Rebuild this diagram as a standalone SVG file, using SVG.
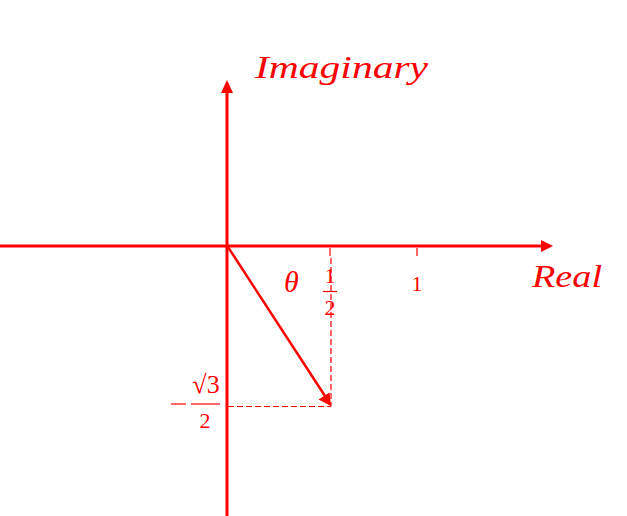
<svg xmlns="http://www.w3.org/2000/svg" width="627" height="516" viewBox="0 0 627 516">
<style>
.ax{stroke:#ff0000;stroke-width:3;fill:none}
.vec{stroke:#ff0000;stroke-width:2.5;fill:none}
.dash{stroke:#ff0000;stroke-width:1.2;stroke-dasharray:6,3;fill:none}
.tk{stroke:#ff0000;stroke-width:1.2}
.lab{fill:#ff0000;font-family:"Liberation Serif","DejaVu Serif",serif;font-style:italic}
.num{fill:#ff0000;font-family:"Liberation Serif","DejaVu Serif",serif}
</style>
<rect width="627" height="516" fill="#ffffff"/>
<g id="connectors">
<line class="ax" x1="0" y1="246" x2="542" y2="246"/>
<path d="M541,240 L553,246 L541,252 Z" fill="#ff0000"/>
<line class="ax" x1="227" y1="516" x2="227" y2="92"/>
<path d="M221,93 L227,80 L233,93 Z" fill="#ff0000"/>
<line class="tk" x1="330" y1="248" x2="330" y2="256"/>
<line class="tk" x1="417" y1="248" x2="417" y2="256"/>
<line class="dash" x1="331" y1="258" x2="331" y2="406"/>
<line class="dash" x1="228" y1="406.5" x2="331" y2="406.5"/>
<line class="vec" x1="228" y1="247" x2="325" y2="396"/>
<path d="M318.5,399.5 L331,406 L329.5,392.5 Z" fill="#ff0000"/>
</g>
<g id="imaginary-label"><text class="lab" x="255" y="78" font-size="32" textLength="173" lengthAdjust="spacingAndGlyphs">Imaginary</text></g>
<g id="real-label"><text class="lab" x="532" y="287" font-size="32" textLength="70" lengthAdjust="spacingAndGlyphs">Real</text></g>
<g id="theta-label"><text class="lab" x="284" y="292" font-size="30">θ</text></g>
<g id="half-label">
<text class="num" x="330" y="283" font-size="21" text-anchor="middle">1</text>
<line class="tk" x1="323" y1="291.5" x2="337" y2="291.5" stroke-width="1.8"/>
<text class="num" x="330" y="315" font-size="22" text-anchor="middle">2</text>
</g>
<g id="one-label"><text class="num" x="417" y="291" font-size="22" text-anchor="middle">1</text></g>
<g id="neg-sqrt3-half-label">
<line class="tk" x1="171" y1="404" x2="186" y2="404" stroke-width="1.8"/>
<text class="num" x="206" y="393" font-size="26" text-anchor="middle">√3</text>
<line class="tk" x1="191" y1="404" x2="220" y2="404" stroke-width="2"/>
<text class="num" x="205" y="428" font-size="22" text-anchor="middle">2</text>
</g>
</svg>
